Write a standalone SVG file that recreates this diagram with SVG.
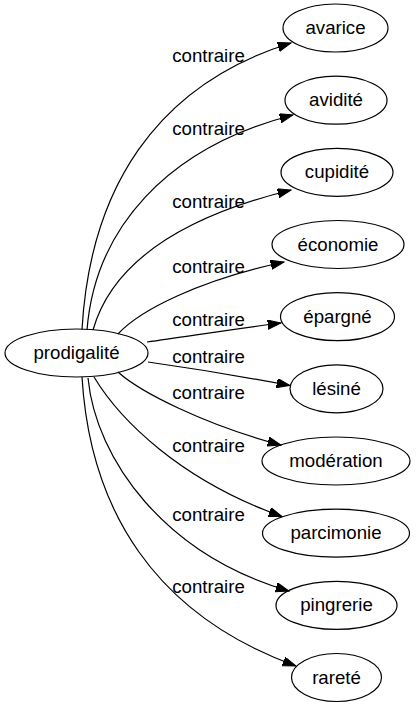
<svg xmlns="http://www.w3.org/2000/svg" width="416" height="707" viewBox="0 0 416 707">
<style>
.n ellipse{fill:none;stroke:#000;stroke-width:1.2}
text{font-family:"Liberation Sans",Arial,sans-serif;font-size:18.67px;fill:#000;text-anchor:middle}
.e path{fill:none;stroke:#000;stroke-width:1.2;marker-end:url(#ah)}
</style>
<defs>
<marker id="ah" markerUnits="userSpaceOnUse" markerWidth="14" markerHeight="10" refX="13.3" refY="4.67" orient="auto">
<path d="M0,0 L13.3,4.67 L0,9.33 z" fill="#000" stroke="#000" stroke-width="1"/>
</marker>
</defs>
<rect width="416" height="707" fill="#fff"/>
<g id="edges" class="e">
<path d="M82,329.5 C90,190 155,85 291,43"/>
<path d="M87,330 C95,230 165,148 293,115"/>
<path d="M93,330 C110,270 170,220 291,190"/>
<path d="M118,334 C140,310 200,280 284,262"/>
<path d="M147,342 C190,336 240,328 281,323"/>
<path d="M148,362 C190,368 245,377 290,385.5"/>
<path d="M118,372 C140,392 205,425 281,445"/>
<path d="M94,377 C120,420 180,480 282,516.5"/>
<path d="M88,378 C96,460 165,555 289,591"/>
<path d="M82,377 C90,510 155,615 296,666"/>
</g>
<g id="labels">
<text x="208.5" y="61.7">contraire</text>
<text x="208.5" y="135">contraire</text>
<text x="208.5" y="208">contraire</text>
<text x="208.5" y="273">contraire</text>
<text x="208.5" y="326">contraire</text>
<text x="208.5" y="362.7">contraire</text>
<text x="208.5" y="399.3">contraire</text>
<text x="208.5" y="452">contraire</text>
<text x="208.5" y="521">contraire</text>
<text x="208.5" y="593">contraire</text>
</g>
<g id="prodigalite" class="n"><ellipse cx="76.5" cy="353" rx="71.5" ry="24"/><text x="76.5" y="359">prodigalité</text></g>
<g id="avarice" class="n"><ellipse cx="335.5" cy="28" rx="52.5" ry="24"/><text x="335.5" y="34">avarice</text></g>
<g id="avidite" class="n"><ellipse cx="336" cy="100.2" rx="51" ry="24"/><text x="336" y="106.2">avidité</text></g>
<g id="cupidite" class="n"><ellipse cx="337" cy="172.3" rx="56" ry="24"/><text x="337" y="178.3">cupidité</text></g>
<g id="economie" class="n"><ellipse cx="338" cy="244.5" rx="66" ry="24"/><text x="338" y="250.5">économie</text></g>
<g id="epargne" class="n"><ellipse cx="337.5" cy="316.7" rx="57" ry="24"/><text x="337.5" y="322.7">épargné</text></g>
<g id="lesine" class="n"><ellipse cx="336.5" cy="388.8" rx="46.5" ry="24"/><text x="336.5" y="394.8">lésiné</text></g>
<g id="moderation" class="n"><ellipse cx="336" cy="461" rx="74" ry="24"/><text x="336" y="467">modération</text></g>
<g id="parcimonie" class="n"><ellipse cx="336" cy="533.2" rx="73.5" ry="24"/><text x="336" y="539.2">parcimonie</text></g>
<g id="pingrerie" class="n"><ellipse cx="336.5" cy="605.4" rx="60.5" ry="24"/><text x="336.5" y="611.4">pingrerie</text></g>
<g id="rarete" class="n"><ellipse cx="336.5" cy="677.5" rx="45" ry="24"/><text x="336.5" y="683.5">rareté</text></g>
</svg>
